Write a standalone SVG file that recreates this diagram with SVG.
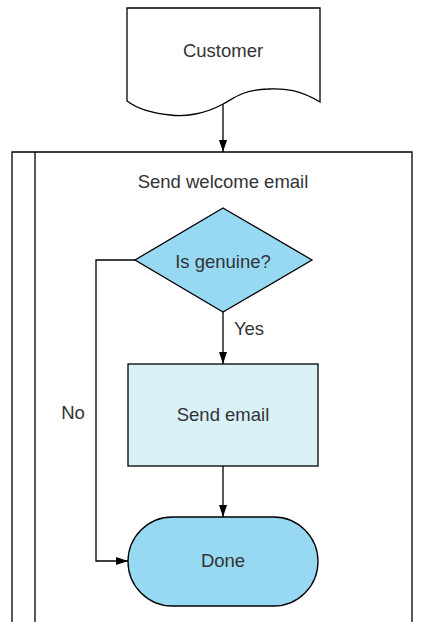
<svg xmlns="http://www.w3.org/2000/svg" width="425" height="622" viewBox="0 0 425 622">
<style>
.s{stroke:#000;stroke-width:1.3;fill:none}
.t{font-family:"Liberation Sans",Arial,sans-serif;font-size:18.5px;fill:#333;text-anchor:middle}
.c{stroke:#000;stroke-width:1.3;fill:none}
</style>
<defs>
<marker id="a" viewBox="0 0 12 10" refX="12" refY="5" markerWidth="12" markerHeight="10" markerUnits="userSpaceOnUse" orient="auto">
<path d="M0,1 L12,5 L0,9 Z" fill="#000"/>
</marker>
</defs>
<rect width="425" height="622" fill="#fff"/>
<g id="container">
<path class="s" d="M12,622 V152 H412 V622 M35,152 V622"/>
<text class="t" x="223" y="188">Send welcome email</text>
</g>
<g id="customer">
<path class="s" style="fill:#fff" d="M127,8 H320 V102 C300,90 285,88 268,89 C240,90 232,100 223,104 C205,114 185,117 170,115 C150,113 135,107 127,101 Z"/>
<text class="t" x="223" y="57">Customer</text>
</g>
<g id="genuine">
<path class="s" style="fill:#97d9f2" d="M223,208 L312,260 L223,312 L135,260 Z"/>
<text class="t" x="223" y="268">Is genuine?</text>
</g>
<g id="send">
<rect class="s" style="fill:#d9f0f7" x="128" y="364" width="190" height="102"/>
<text class="t" x="223" y="421">Send email</text>
</g>
<g id="done">
<rect class="s" style="fill:#97d9f2" x="128" y="517" width="190" height="89" rx="44.5" ry="44.5"/>
<text class="t" x="223" y="567">Done</text>
</g>
<g id="connectors">
<path class="c" d="M223,104 V152" marker-end="url(#a)"/>
<path class="c" d="M223,312 V364" marker-end="url(#a)"/>
<path class="c" d="M223,466 V517" marker-end="url(#a)"/>
<path class="c" d="M135,260 H96 V561 H128" marker-end="url(#a)"/>
<text class="t" x="249" y="335">Yes</text>
<text class="t" x="73" y="419">No</text>
</g>
</svg>
